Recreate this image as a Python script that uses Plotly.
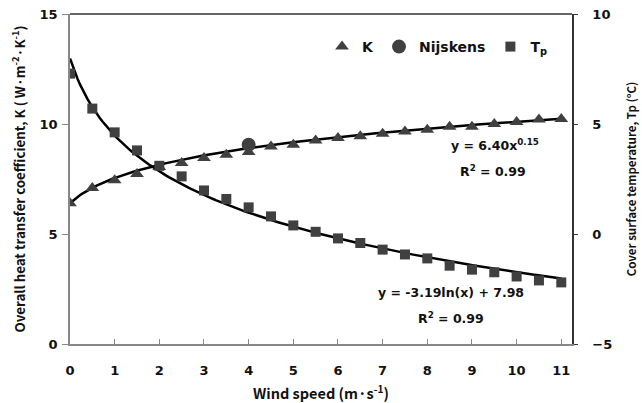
import numpy as np
import plotly.graph_objects as go

# ---- data ----
wind = [0, 0.5, 1, 1.5, 2, 2.5, 3, 3.5, 4, 4.5, 5, 5.5, 6, 6.5, 7, 7.5, 8, 8.5, 9, 9.5, 10, 10.5, 11]
k_values = [6.40, 7.09, 7.44, 7.73, 8.05, 8.23, 8.45, 8.60, 8.73, 8.98, 9.06, 9.25, 9.36, 9.44,
            9.56, 9.66, 9.74, 9.87, 9.88, 10.00, 10.09, 10.20, 10.23]
tp_values = [7.29, 5.70, 4.62, 3.80, 3.10, 2.62, 1.98, 1.59, 1.21, 0.80, 0.39, 0.10, -0.20, -0.41,
             -0.71, -0.93, -1.11, -1.44, -1.62, -1.74, -1.93, -2.11, -2.20]
nijskens_x = [4]
nijskens_k = [9.06]

# trendline coefficients as printed on the chart (x = point index 1..23)
k_coef, k_exp = 6.40, 0.15
tp_a, tp_b = -3.19, 7.98

x_ticks = list(range(0, 12))
TFONT = "Noto Sans CJK KR"
NFONT = "DejaVu Sans"
MARK = "#404040"
TXT = "#111"

xs = np.linspace(0, 11, 200)
idx = 2 * xs + 1
k_fit = k_coef * idx ** k_exp
tp_fit = tp_a * np.log(idx) + tp_b

fig = go.Figure()
fig.add_trace(go.Scatter(x=xs, y=k_fit, mode="lines", line=dict(color="black", width=2.5),
                         showlegend=False, hoverinfo="skip"))
fig.add_trace(go.Scatter(x=xs, y=tp_fit, mode="lines", line=dict(color="black", width=2.5),
                         showlegend=False, hoverinfo="skip", yaxis="y2"))
fig.add_trace(go.Scatter(x=wind, y=k_values, mode="markers", name="K",
                         marker=dict(symbol="triangle-up", size=12, color=MARK)))
fig.add_trace(go.Scatter(x=nijskens_x, y=nijskens_k, mode="markers", name="Nijskens",
                         marker=dict(symbol="circle", size=14, color=MARK)))
fig.add_trace(go.Scatter(x=wind, y=tp_values, mode="markers", name="T<sub>p</sub>", yaxis="y2",
                         marker=dict(symbol="square", size=10, color=MARK)))

tickfont = dict(family=NFONT, size=13, color=TXT, weight="bold")

fig.update_layout(
    width=642, height=403,
    margin=dict(l=70, r=70, t=14, b=59, autoexpand=False),
    paper_bgcolor="white", plot_bgcolor="white",
    font=dict(family=NFONT, size=13, color=TXT),
    xaxis=dict(range=[0, 11.24], tickvals=x_ticks, ticks="inside", ticklen=5, tickcolor="#888",
               showline=True, linecolor="#888", linewidth=1.5, showgrid=False, zeroline=False,
               tickfont=tickfont, ticklabelstandoff=14, automargin=False,
               title=dict(text="Wind speed (m·s<sup>-1</sup>)",
                          font=dict(family=TFONT, size=14.5, weight="bold", color=TXT), standoff=13)),
    yaxis=dict(range=[0, 15], dtick=5, ticks="outside", ticklen=6, tickcolor="#888",
               showline=True, linecolor="#888", linewidth=1.5, showgrid=False, zeroline=False,
               tickfont=tickfont, ticklabelstandoff=2, automargin=False,
               title=dict(text="Overall heat transfer coefficient, K ( W·m<sup>-2</sup>·K<sup>-1</sup>)",
                          font=dict(family=TFONT, size=13.3, weight="bold", color=TXT), standoff=11)),
    yaxis2=dict(range=[-5, 10], dtick=5, overlaying="y", side="right", ticks="outside", ticklen=4,
                tickcolor="#333", showline=True, linecolor="#333", linewidth=1.5, showgrid=False,
                zeroline=False, tickfont=tickfont, ticklabelstandoff=12, automargin=False,
                title=dict(text="Cover surface temperature, Tp (°C)",
                           font=dict(family=TFONT, size=11.5, weight="bold", color=TXT), standoff=17)),
    legend=dict(orientation="h", x=0.502, y=0.9, xanchor="left", yanchor="middle",
                font=dict(family=NFONT, size=14, weight="bold", color=TXT), bgcolor="rgba(0,0,0,0)",
                itemwidth=30, traceorder="normal"),
    shapes=[dict(type="line", xref="paper", yref="paper", x0=0, x1=1, y0=1, y1=1,
                 line=dict(color="#333", width=1.5))],
    annotations=[
        dict(text="y = 6.40x<sup>0.15</sup>", x=495, y=145, xref="paper", yref="paper", showarrow=False),
        dict(text="R<sup>2</sup> = 0.99", x=493, y=171, xref="paper", yref="paper", showarrow=False),
        dict(text="y = -3.19ln(x) + 7.98", x=451, y=292, xref="paper", yref="paper", showarrow=False),
        dict(text="R<sup>2</sup> = 0.99", x=451, y=318, xref="paper", yref="paper", showarrow=False),
    ],
)

# convert annotation pixel positions to paper coordinates
pl, pr, pt, pb = 70, 642 - 70, 14, 403 - 59
new_ann = []
for a in fig.layout.annotations:
    px, py = a.x, a.y
    a.x = (px - pl) / (pr - pl)
    a.y = 1 - (py - pt) / (pb - pt)
    a.xanchor = "center"
    a.yanchor = "middle"
    a.font = dict(family=NFONT, size=12.5, color=TXT, weight="bold")
    new_ann.append(a)
fig.layout.annotations = new_ann

fig.write_html("out.html")
